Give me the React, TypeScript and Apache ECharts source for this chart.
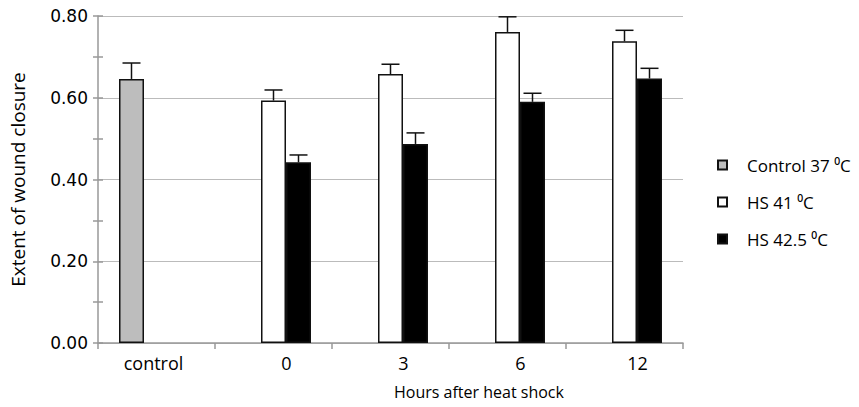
import React, { useEffect, useRef } from "react";
import * as echarts from "echarts";

const categories = ["control", "0", "3", "6", "12"];
const seriesNames = ["Control 37 \u2070C", "HS 41 \u2070C", "HS 42.5 \u2070C"];
const controlValues = [0.646, null, null, null, null];
const hs41Values = [null, 0.593, 0.658, 0.761, 0.738];
const hs425Values = [null, 0.442, 0.487, 0.59, 0.647];
const controlErr = [0.039, null, null, null, null];
const hs41Err = [null, 0.026, 0.024, 0.037, 0.027];
const hs425Err = [null, 0.018, 0.027, 0.021, 0.025];
const yTicks = [0, 0.2, 0.4, 0.6, 0.8];

const allValues = [controlValues, hs41Values, hs425Values];
const allErr = [controlErr, hs41Err, hs425Err];
const barColors = ["#bdbdbd", "#ffffff", "#000000"];

export default function App() {
  const ref = useRef<HTMLDivElement>(null);
  useEffect(() => {
    if (!ref.current) return;
    const chart = echarts.init(ref.current, null, { renderer: "svg" });
    const BAR_W = 25;
    const errData: any[] = [];
    allValues.forEach((vals, si) => {
      vals.forEach((v, ci) => {
        const e = allErr[si][ci];
        if (v != null && e != null) errData.push([ci, v, v + e, si]);
      });
    });
    const barSeries = allValues.map((vals, si) => ({
      name: seriesNames[si],
      type: "bar",
      data: vals.map((v) => (v == null ? "-" : v)),
      barWidth: BAR_W,
      barGap: "0%",
      itemStyle: { color: barColors[si], borderColor: "#111", borderWidth: 1.5 },
      z: 2,
    }));
    chart.setOption({
      animation: false,
      backgroundColor: "#fff",
      grid: { left: 98, right: 176, top: 16, bottom: 64 },
      legend: {
        data: seriesNames.map((n) => ({ name: n, icon: "rect" })),
        orient: "vertical",
        left: 717,
        top: 153,
        padding: 0,
        itemWidth: 9,
        itemHeight: 9,
        itemGap: 13,
        textStyle: {
          fontFamily: "Open Sans",
          fontSize: 17,
          color: "#000",
          lineHeight: 24,
          padding: [0, 0, 0, 15],
          overflow: "none",
        },
      },
      xAxis: {
        type: "category",
        data: categories,
        axisLine: { lineStyle: { color: "#999", width: 1.5 } },
        axisTick: { show: true, length: 6, lineStyle: { color: "#999", width: 1.5 } },
        axisLabel: {
          interval: 0,
          margin: 11,
          fontFamily: "Open Sans",
          fontSize: 18,
          color: "#000",
          formatter: (v: string) => (v === "control" ? "{c|" + v + "}" : "{n|" + v + "}"),
          rich: {
            c: { fontFamily: "Open Sans", fontSize: 18, color: "#000", padding: [0, 6, 0, 0] },
            n: { fontFamily: "Open Sans", fontSize: 18, color: "#000", padding: [0, 0, 0, 26] },
          },
        },
      },
      yAxis: [
        {
          type: "value",
          min: 0,
          max: 0.8,
          interval: 0.2,
          axisLine: { show: true, lineStyle: { color: "#999", width: 1.5 } },
          axisTick: { show: true, length: 5, lineStyle: { color: "#999", width: 1.5 } },
          minorTick: { show: true, splitNumber: 2, length: 5, lineStyle: { color: "#999", width: 1.5 } },
          splitLine: { show: true, lineStyle: { color: "#bbb", width: 1.2 } },
          axisLabel: {
            margin: 10,
            fontFamily: "DejaVu Sans",
            fontSize: 17,
            color: "#000",
            formatter: (v: number) => (yTicks.some((t) => Math.abs(t - v) < 1e-9) ? v.toFixed(2) : ""),
          },
          name: "Extent of wound closure",
          nameLocation: "middle",
          nameGap: 71,
          nameTextStyle: { fontFamily: "Open Sans", fontSize: 19, color: "#000" },
        },
        {
          type: "value",
          min: 0,
          max: 0.8,
          interval: 0.1,
          position: "left",
          axisLine: { show: false },
          axisTick: { show: true, inside: true, length: 5, lineStyle: { color: "#999", width: 1.5 } },
          splitLine: { show: false },
          axisLabel: { show: false },
        },
      ],
      graphic: [
        {
          type: "text",
          left: 394,
          top: 384,
          style: { text: "Hours after heat shock", fontFamily: "Open Sans", fontSize: 16, fill: "#000" },
        },
      ],
      series: [
        ...barSeries,
        {
          type: "custom",
          name: "err",
          data: errData,
          z: 3,
          encode: { x: 0, y: 2 },
          renderItem: (params: any, api: any) => {
            const ci = api.value(0);
            const v = api.value(1);
            const e = api.value(2);
            const si = api.value(3);
            const base = api.coord([ci, v]);
            const top = api.coord([ci, e]);
            const x = base[0] + (si - 1) * BAR_W;
            const cap = 9;
            const st = { stroke: "#111", lineWidth: 1.5 };
            return {
              type: "group",
              children: [
                { type: "line", shape: { x1: x, y1: base[1], x2: x, y2: top[1] }, style: st },
                { type: "line", shape: { x1: x - cap, y1: top[1], x2: x + cap, y2: top[1] }, style: st },
              ],
            };
          },
        },
      ],
    });
    return () => chart.dispose();
  }, []);
  return <div ref={ref} style={{ width: 859, height: 407, margin: -8 }} />;
}
